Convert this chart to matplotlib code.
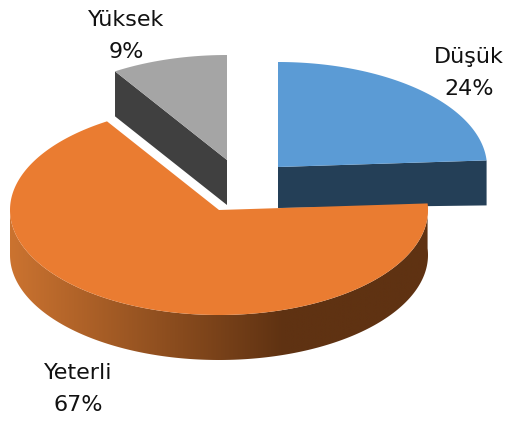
import numpy as np
import matplotlib
matplotlib.use("Agg")
import matplotlib.pyplot as plt
from matplotlib.colors import LinearSegmentedColormap
from matplotlib.patches import Polygon

categories = ["Düşük", "Yeterli", "Yüksek"]
shares = [24, 67, 9]

top_colors = ["#5B9BD5", "#EA7C31", "#A5A5A5"]
side_colors = ["#243F57", None, "#404040"]
centers = [(278, 167), (219, 210), (227, 160)]
RX, RY, DEPTH = 209, 105, 45
label_pos = [(469, 73), (78, 389), (126, 36)]

fig = plt.figure(figsize=(5.08, 4.21), dpi=100)
ax = fig.add_axes([0, 0, 1, 1])
ax.axis("off")


def rim(center, a0, a1, dy=0, n=240):
    t = np.radians(np.linspace(a0, a1, n))
    return np.column_stack([center[0] + RX * np.cos(t),
                            center[1] - RY * np.sin(t) + dy])


# angular spans from the shares, clockwise from 12 o'clock
edges = 90 - np.cumsum([0] + shares) * 3.6
spans = list(zip(edges[:-1], edges[1:]))

# Yüksek
c = centers[2]
a_start, a_end = spans[2]
p = rim(c, a_end, a_start)
ax.add_patch(Polygon([p[-1], c, (c[0], c[1] + DEPTH), p[-1] + (0, DEPTH)],
                     fc=side_colors[2], ec="none", zorder=1))
ax.add_patch(Polygon(np.vstack([[c], p]), fc=top_colors[2], ec="none", zorder=2))

# Düşük
c = centers[0]
a_start, a_end = spans[0]
p = rim(c, a_start, a_end)
ax.add_patch(Polygon([c, p[-1], p[-1] + (0, DEPTH), (c[0], c[1] + DEPTH - 4)],
                     fc=side_colors[0], ec="none", zorder=1))
ax.add_patch(Polygon(np.vstack([[c], p]), fc=top_colors[0], ec="none", zorder=2))

# Yeterli
c = centers[1]
a_start, a_end = spans[1]
top_arc = rim(c, a_start, -180)
side = np.vstack([top_arc, top_arc[::-1] + (0, DEPTH)])
clip = Polygon(side, fc="none", ec="none", zorder=3)
ax.add_patch(clip)
cmap = LinearSegmentedColormap.from_list(
    "side", [(0, "#CB7330"), (0.655, "#5F3212"), (1, "#5F3212")])
grad = np.linspace(0, 1, 512)[None, :]
im = ax.imshow(grad, cmap=cmap, aspect="auto", zorder=3,
               extent=(c[0] - RX, c[0] + RX, c[1] + RY + DEPTH + 5, c[1] - 10))
im.set_clip_path(clip)
p = rim(c, a_start, a_end)
ax.add_patch(Polygon(np.vstack([[c], p]), fc=top_colors[1], ec="none", zorder=4))

for name, share, (x, y) in zip(categories, shares, label_pos):
    ax.text(x, y, f"{name}\n{share}%", ha="center", va="center",
            fontsize=16, color="#111111", family="DejaVu Sans",
            linespacing=1.75, zorder=5)

ax.set_xlim(0, 508)
ax.set_ylim(421, 0)
fig.savefig("out.png", dpi=100)
